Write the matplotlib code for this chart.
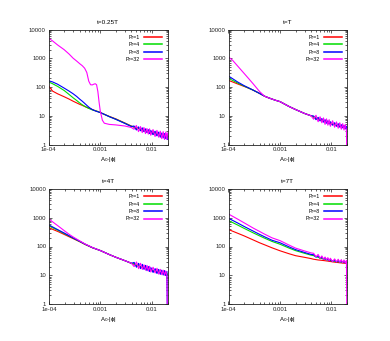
import matplotlib
matplotlib.use("Agg")
import matplotlib.pyplot as plt
from matplotlib.ticker import FixedLocator, FixedFormatter, LogLocator, NullFormatter

plt.rcParams['font.family'] = ['Liberation Sans', 'DejaVu Sans']

labels = ["Pr=1", "Pr=4", "Pr=8", "Pr=32"]
colors = ["#ff0000", "#00dd00", "#0000ff", "#ff00ff"]
titles = ["t=0.25T", "t=T", "t=4T", "t=7T"]
xticks = [1e-4, 1e-3, 1e-2]
xticklabels = ["1e-04", "0.001", "0.01"]
yticks = [1, 10, 100, 1000, 10000]
yticklabels = ["1", "10", "100", "1000", "10000"]

tail_x = [4.5e-3, 5e-3, 5.5e-3, 6e-3, 6.5e-3, 7e-3, 7.5e-3, 8e-3, 8.5e-3, 9e-3, 9.5e-3,
          0.0105, 0.0115, 0.0125, 0.0135, 0.0145, 0.0155, 0.0165, 0.0175, 0.0185, 0.0195, 0.0199]

# panel 1: t=0.25T
p1_x = [1e-4, 1.2e-4, 1.5e-4, 2e-4, 2.5e-4, 3e-4, 3.5e-4, 4e-4, 4.5e-4, 5e-4, 5.5e-4, 6e-4, 6.5e-4,
        7e-4, 7.5e-4, 8e-4, 8.5e-4, 9e-4, 9.5e-4, 1e-3, 1.1e-3, 1.2e-3, 1.5e-3, 2e-3, 3e-3, 4e-3]
p1_pr1 = [110, 72, 58, 46, 38, 32, 28, 25, 23, 21, 19.5, 18.5, 17.5, 16.5, 15.8, 15, 14.5, 14, 13.5, 13,
          12, 11.2, 9.5, 7.8, 5.6, 4.4,
          4.0, 3.8, 3.6, 3.5, 3.3, 3.2, 3.1, 3.0, 2.9, 2.85, 2.8, 2.7, 2.6, 2.5, 2.4, 2.35, 2.3, 2.25,
          2.2, 2.15, 2.1, 2.05]
p1_pr4 = [150, 130, 105, 76, 55, 42, 34, 28, 24, 21.5, 19.5, 18, 17, 16, 15.5, 15, 14.5, 14, 13.5, 13,
          12, 11.2, 9.3, 7.6, 5.5, 4.3,
          4.1, 3.5, 3.8, 3.1, 3.4, 2.9, 3.1, 2.7, 2.9, 2.5, 2.7, 2.3, 2.5, 2.15, 2.35, 2.0, 2.2, 1.9,
          2.1, 1.8, 2.0, 1.75]
p1_pr8 = [165, 150, 125, 92, 72, 58, 47, 38, 32, 27, 23, 20, 18, 16.5, 15.5, 14.8, 14.2, 13.7, 13.3, 13,
          12, 11.2, 9.3, 7.5, 5.4, 4.2,
          4.4, 3.2, 4.1, 3.0, 3.8, 2.8, 3.5, 2.6, 3.3, 2.4, 3.1, 2.2, 2.9, 2.0, 2.7, 1.8, 2.5, 1.7,
          2.4, 1.6, 2.3, 1.5]
p1_pr32 = [5000, 4000, 2900, 2000, 1400, 1000, 800, 650, 550, 450, 320, 160, 120, 118, 125, 130, 120,
           70, 30, 15, 7, 5.5, 5.0, 4.8, 4.4, 3.9,
           3.4, 4.6, 2.8, 4.2, 2.6, 3.9, 2.4, 3.6, 2.3, 3.5, 2.1, 3.3, 1.9, 3.1, 1.8, 2.9, 1.6, 2.8,
           1.5, 2.7, 1.5, 2.5]

# panel 2: t=T
p2_x = [1e-4, 1.2e-4, 1.5e-4, 2e-4, 2.5e-4, 3e-4, 4e-4, 5e-4, 6e-4, 8e-4, 1e-3, 1.5e-3, 2e-3, 3e-3, 4e-3]
p2_pr1 = [170, 150, 128, 105, 90, 78, 60, 48, 42, 35, 31, 21, 16.5, 12, 10,
          9.0, 8.3, 7.7, 7.3, 6.9, 6.6, 6.3, 6.0, 5.8, 5.6, 5.4, 5.1, 4.8, 4.6, 4.4, 4.25, 4.1, 4.0,
          3.9, 3.8, 3.7, 3.65]
p2_pr4 = [200, 170, 138, 108, 90, 78, 60, 48, 42, 35, 31, 21, 16.5, 12, 10,
          9.2, 7.9, 8.1, 7.0, 7.3, 6.3, 6.6, 5.8, 6.0, 5.4, 5.6, 5.0, 5.1, 4.6, 4.8, 4.3, 4.5, 4.0,
          4.2, 3.8, 4.0, 3.7]
p2_pr8 = [240, 195, 150, 112, 92, 78, 60, 48, 42, 35, 31, 21, 16.5, 12, 10,
          9.8, 7.3, 8.8, 6.6, 8.0, 6.0, 7.3, 5.5, 6.7, 5.1, 6.2, 4.7, 5.7, 4.3, 5.3, 4.0, 4.9, 3.8,
          4.6, 3.5, 4.3, 3.3]
p2_pr32 = [1100, 850, 540, 300, 190, 130, 70, 48, 42, 35, 31, 21, 16.5, 12, 10,
           7.6, 10.4, 6.2, 9.2, 5.7, 8.4, 5.0, 7.8, 4.7, 7.3, 4.3, 6.7, 4.0, 6.1, 3.7, 5.7, 3.4, 5.3,
           3.2, 5.0, 3.0, 0.3]

# panel 3: t=4T
p3_x = [1e-4, 1.2e-4, 1.5e-4, 2e-4, 2.5e-4, 3e-4, 4e-4, 5e-4, 7e-4, 1e-3, 1.5e-3, 2e-3, 3e-3, 4e-3]
p3_pr1 = [450, 390, 330, 260, 215, 185, 145, 118, 90, 72, 52, 42, 32, 26,
          24, 22.5, 21, 20, 19, 18.2, 17.5, 16.8, 16.2, 15.7, 15.2, 14.4, 13.7, 13.1, 12.6, 12.2,
          11.8, 11.5, 11.2, 11.0, 10.8, 10.6]
p3_pr4 = [520, 440, 365, 280, 228, 192, 148, 120, 91, 72, 52, 42, 32, 26,
          25, 22, 22, 19, 20, 17.5, 18.5, 16, 17, 15, 16, 14, 14.5, 12.8, 13.5, 12, 12.6, 11.3,
          12, 10.8, 11.5, 10.5]
p3_pr8 = [560, 470, 380, 290, 233, 195, 150, 121, 91, 72, 52, 42, 32, 26,
          28, 19, 26, 17, 24, 16, 22, 14.5, 20, 13.5, 18.5, 12.5, 17, 11.5, 16, 10.8, 15, 10.2,
          14.5, 9.8, 13.5, 0.3]
p3_pr32 = [900, 700, 520, 350, 260, 210, 155, 123, 92, 72, 52, 42, 32, 26,
           20, 29, 17, 26, 16, 23, 15, 22, 14, 20.5, 13, 19, 12, 17.5, 11, 16, 10.5, 15,
           10, 14, 9.6, 0.3]

# panel 4: t=7T
p4_x = [1e-4, 1.5e-4, 2e-4, 3e-4, 4e-4, 5e-4, 7e-4, 1e-3, 1.5e-3, 2e-3, 3e-3, 4e-3]
p4_pr1 = [390, 290, 235, 170, 135, 115, 90, 71, 56, 48, 42, 38,
          36, 35, 34, 33.5, 33, 32.5, 32, 31.5, 31, 30.5, 30, 29.2, 28.5, 28, 27.6, 27.2, 26.8,
          26.5, 26.2, 26, 25.8, 25.5]
p4_pr4 = [800, 560, 430, 300, 235, 195, 150, 120, 88, 72, 58, 50,
          48, 44, 42, 40, 38, 37, 36, 35, 34, 33, 32.5, 31.5, 30.5, 30, 29.5, 29, 28.5, 28, 27.8,
          27.5, 27.2, 27]
p4_pr8 = [960, 660, 500, 345, 265, 218, 165, 135, 97, 78, 62, 53,
          52, 43, 47, 39, 43, 36, 40, 34, 37, 32, 35, 30, 34, 29, 33, 28, 32, 27.5, 31, 27, 30, 27]
p4_pr32 = [1350, 900, 670, 440, 335, 270, 200, 160, 112, 88, 70, 60,
           58, 44, 53, 39, 47, 36, 43, 34, 41, 32, 39, 30, 37, 29, 36, 28, 35, 27, 34, 26.5, 33, 0.3]

panels = [
    (p1_x, [p1_pr1, p1_pr4, p1_pr8, p1_pr32]),
    (p2_x, [p2_pr1, p2_pr4, p2_pr8, p2_pr32]),
    (p3_x, [p3_pr1, p3_pr4, p3_pr8, p3_pr32]),
    (p4_x, [p4_pr1, p4_pr4, p4_pr8, p4_pr32]),
]

W, H = 390, 341
fig = plt.figure(figsize=(W / 100, H / 100), dpi=100)
boxes = [(48.5, 29.5, 167.5, 144.5), (228.5, 29.5, 347, 144.5),
         (49, 189, 167.5, 304), (228.5, 189, 347, 304)]

fs = 4.3
for (x0, y0, x1, y1), (px, series), title in zip(boxes, panels, titles):
    ax = fig.add_axes([x0 / W, 1 - y1 / H, (x1 - x0) / W, (y1 - y0) / H])
    xs = list(px) + tail_x
    for ys, c, lab in zip(series, colors, labels):
        ax.plot(xs, ys, color=c, lw=0.8, label=lab)
    ax.set_xscale('log')
    ax.set_yscale('log')
    ax.set_xlim(1e-4, 0.02)
    ax.set_ylim(1, 10000)
    ax.xaxis.set_major_locator(FixedLocator(xticks))
    ax.xaxis.set_major_formatter(FixedFormatter(xticklabels))
    ax.yaxis.set_major_locator(FixedLocator(yticks))
    ax.yaxis.set_major_formatter(FixedFormatter(yticklabels))
    ax.xaxis.set_minor_locator(LogLocator(base=10, subs=range(2, 10), numticks=20))
    ax.yaxis.set_minor_locator(LogLocator(base=10, subs=range(2, 10), numticks=20))
    ax.xaxis.set_minor_formatter(NullFormatter())
    ax.yaxis.set_minor_formatter(NullFormatter())
    ax.tick_params(which='both', direction='in', top=True, right=True, labelsize=fs,
                   width=0.5, colors='#222222', pad=2)
    ax.tick_params(which='major', length=2.5)
    ax.tick_params(which='minor', length=1.2)
    for s in ax.spines.values():
        s.set_linewidth(0.6)
        s.set_color('#222222')
    ax.set_title(title, fontsize=fs + 0.3, pad=4)
    ax.set_xlabel(r'A$_0$-|ϕ|', fontsize=fs, labelpad=2)
    leg = ax.legend(loc='upper right', fontsize=fs - 0.5, frameon=False, markerfirst=False,
                    handlelength=3.4, labelspacing=0.45, borderaxespad=0.6, handletextpad=0.8)
    for h in leg.get_lines():
        h.set_linewidth(1.1)

fig.savefig('out.png', dpi=100)
